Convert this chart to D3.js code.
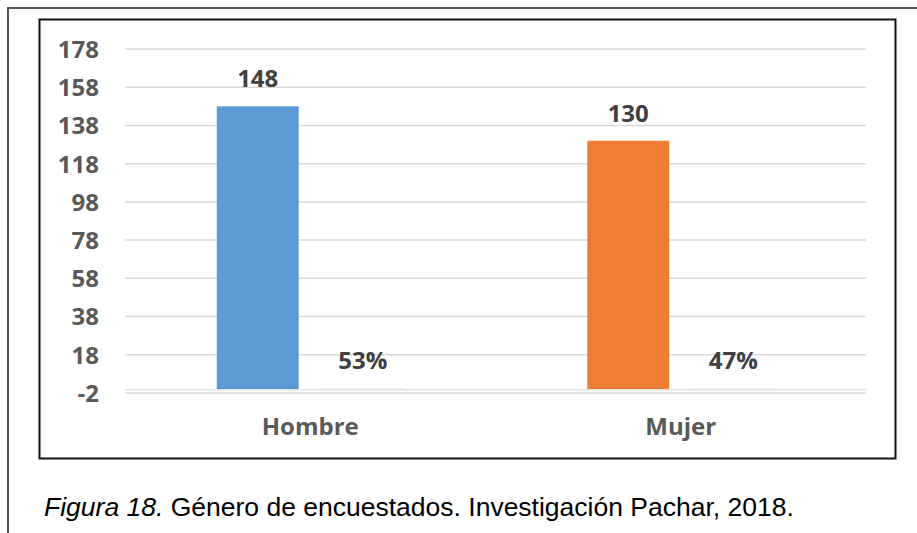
<!DOCTYPE html>
<html>
<head>
<meta charset="utf-8">
<script src="https://cdn.jsdelivr.net/npm/d3@7"></script>
<style>
  body { margin: 0; background: #fff; }
</style>
</head>
<body>
<div id="chart"></div>
<script>
// chart data
var categories = ['Hombre', 'Mujer'];
var counts = [148, 130];
var percents = [0.53, 0.47];
var percentLabels = ['53%', '47%'];
var tickValues = [-2, 18, 38, 58, 78, 98, 118, 138, 158, 178];
var colors = ['#5B9BD5', '#ED7D31'];

var width = 917, height = 533;
var plot = {left: 125, right: 866, top: 49, bottom: 393};

var svg = d3.select('#chart')
    .append('svg')
    .attr('width', width)
    .attr('height', height);

// outer page frame (top + left edges)
svg.append('path')
    .attr('d', 'M8,' + height + ' L8,8 L' + width + ',8')
    .attr('fill', 'none')
    .attr('stroke', '#555')
    .attr('stroke-width', 2);

// chart box
svg.append('rect')
    .attr('x', 39.5).attr('y', 19.5)
    .attr('width', 856).attr('height', 439)
    .attr('fill', '#fff')
    .attr('stroke', '#111')
    .attr('stroke-width', 2);

var y = d3.scaleLinear()
    .domain([-2, 178])
    .range([plot.bottom, plot.top]);

var x = d3.scaleBand()
    .domain(categories)
    .range([plot.left, plot.right]);

var series = ['count', 'pct'];
var xs = d3.scaleBand()
    .domain(series)
    .range([0, x.bandwidth()])
    .paddingInner(0.22)
    .paddingOuter(0.874);

// gridlines
svg.append('g')
    .selectAll('line')
    .data(tickValues)
    .enter()
    .append('line')
    .attr('x1', plot.left)
    .attr('x2', plot.right)
    .attr('y1', d => y(d))
    .attr('y2', d => y(d))
    .attr('stroke', '#d9d9d9')
    .attr('stroke-width', 1.5);

// y axis labels
var yAxis = d3.axisLeft(y)
    .tickValues(tickValues)
    .tickFormat(d => String(d))
    .tickSize(0)
    .tickPadding(0);
var yg = svg.append('g')
    .attr('transform', 'translate(99,0)')
    .call(yAxis);
yg.select('.domain').remove();
yg.selectAll('text')
    .attr('font-family', '"Open Sans", sans-serif')
    .attr('font-size', 24)
    .attr('font-weight', 700)
    .attr('fill', '#595959')
    .attr('dy', '0.35em');

var rows = categories.map((c, i) => ({cat: c, count: counts[i], pct: percents[i], pctLabel: percentLabels[i], color: colors[i]}));

// count bars
svg.append('g')
    .selectAll('rect')
    .data(rows)
    .enter()
    .append('rect')
    .attr('x', d => x(d.cat) + xs('count'))
    .attr('y', d => y(d.count))
    .attr('width', xs.bandwidth())
    .attr('height', d => y(0) - y(d.count))
    .attr('fill', d => d.color);

// percent bars (tiny)
svg.append('g')
    .selectAll('rect')
    .data(rows)
    .enter()
    .append('rect')
    .attr('x', d => x(d.cat) + xs('pct'))
    .attr('y', d => y(d.pct))
    .attr('width', xs.bandwidth())
    .attr('height', d => y(0) - y(d.pct))
    .attr('fill', d => d.color)
    .attr('opacity', 0.15);

// axis line at zero
svg.append('line')
    .attr('x1', plot.left)
    .attr('x2', plot.right)
    .attr('y1', y(0) + 0.5)
    .attr('y2', y(0) + 0.5)
    .attr('stroke', '#e3e3e3')
    .attr('stroke-width', 1.5);

var labelFont = '"Open Sans", sans-serif';

// count labels
svg.append('g')
    .selectAll('text')
    .data(rows)
    .enter()
    .append('text')
    .text(d => d.count)
    .attr('x', d => x(d.cat) + xs('count') + xs.bandwidth() / 2)
    .attr('y', d => y(d.count) - 19)
    .attr('text-anchor', 'middle')
    .attr('font-family', labelFont)
    .attr('font-size', 24)
    .attr('font-weight', 700)
    .attr('fill', '#404040');

// percent labels
svg.append('g')
    .selectAll('text')
    .data(rows)
    .enter()
    .append('text')
    .text(d => d.pctLabel)
    .attr('x', d => x(d.cat) + xs('pct') + xs.bandwidth() / 2)
    .attr('y', d => y(d.pct) - 19)
    .attr('text-anchor', 'middle')
    .attr('font-family', labelFont)
    .attr('font-size', 24)
    .attr('font-weight', 700)
    .attr('fill', '#404040');

// category labels
svg.append('g')
    .selectAll('text')
    .data(categories)
    .enter()
    .append('text')
    .text(d => d)
    .attr('x', d => x(d) + x.bandwidth() / 2)
    .attr('y', 435)
    .attr('text-anchor', 'middle')
    .attr('font-family', labelFont)
    .attr('font-size', 24)
    .attr('font-weight', 700)
    .attr('fill', '#595959');

// caption
var cap = svg.append('text')
    .attr('x', 44)
    .attr('y', 516)
    .attr('font-family', '"Liberation Sans", Arial, sans-serif')
    .attr('font-size', 26.5)
    .attr('fill', '#000');
cap.append('tspan').attr('font-style', 'italic').text('Figura 18.');
cap.append('tspan').text(' Género de encuestados. Investigación Pachar, 2018.');
</script>
</body>
</html>
